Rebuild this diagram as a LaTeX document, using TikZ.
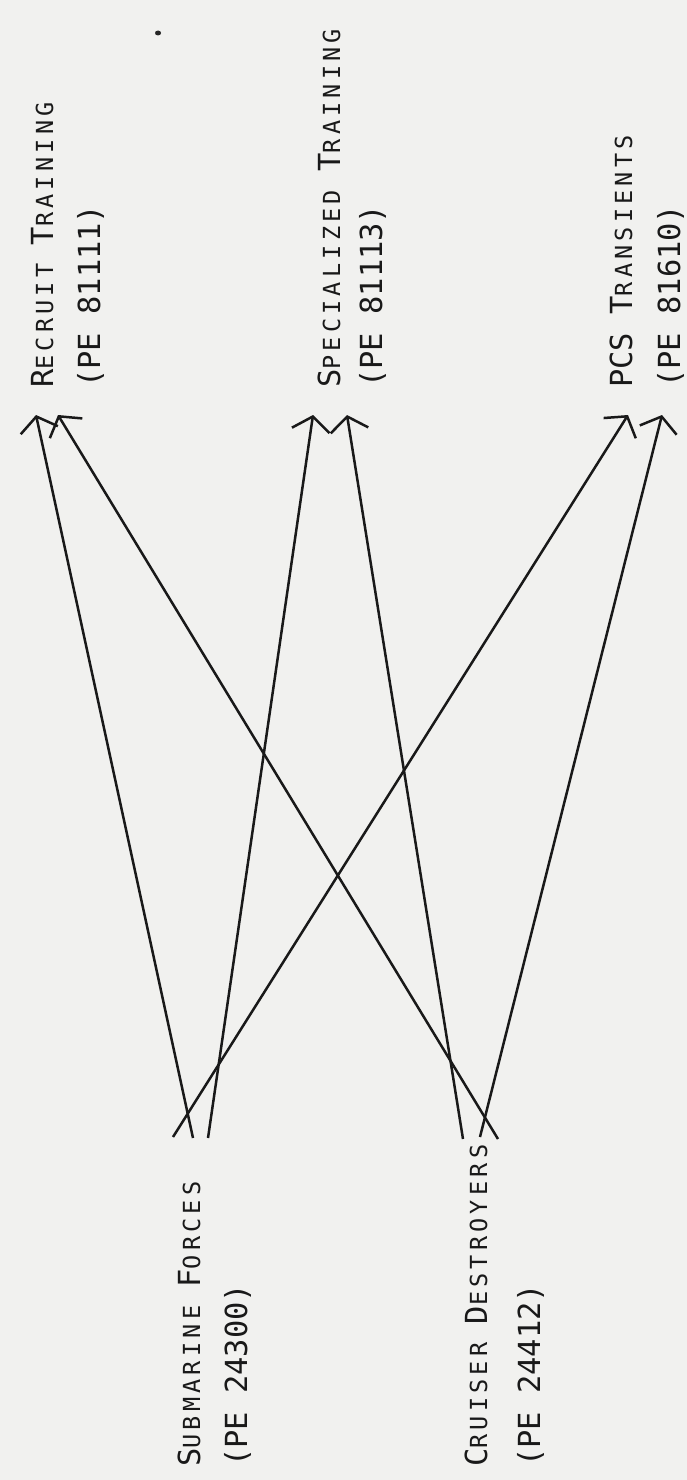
\documentclass[tikz,border=0pt]{standalone}
\usepackage{fontspec}
\usetikzlibrary{arrows.meta}
\newfontfamily\lblbig{DejaVu Sans Mono}
\newfontfamily\lblsmall[LetterSpace=18]{DejaVu Sans Mono}
\definecolor{paper}{RGB}{241,241,239}
\newcommand{\capword}[2]{{\fontsize{30.4}{36}\lblbig #1}{\fontsize{23.5}{30}\lblsmall #2}}
\newcommand{\wordgap}{\hspace*{18.3pt}}
\newcommand{\pecode}[1]{{\fontsize{30.4}{36}\lblbig (PE #1)}}

\begin{document}
\begin{tikzpicture}[
  x=1pt, y=-1pt,
  >={Straight Barb[length=14pt,width=38pt]},
  label/.style={rotate=90, anchor=base west, inner sep=0pt, text=black!90},
  link/.style={->, line width=2.5pt, draw=black!90}
]
  \useasboundingbox[fill=paper] (0,0) rectangle (687,1480);

  % targets (top)
  \node[label] (rec) at (53,388) {\capword{R}{ECRUIT}\wordgap\capword{T}{RAINING}};
  \node[label] (recpe) at (100,388) {\pecode{81111}};
  \node[label] (spe) at (340,388) {\capword{S}{PECIALIZED}\wordgap\capword{T}{RAINING}};
  \node[label] (spepe) at (382,388) {\pecode{81113}};
  \node[label] (pcs) at (632,388) {\capword{PCS}{}\wordgap\capword{T}{RANSIENTS}};
  \node[label] (pcspe) at (680,388) {\pecode{81610}};

  % sources (bottom)
  \node[label] (sub) at (200,1467) {\capword{S}{UBMARINE}\wordgap\capword{F}{ORCES}};
  \node[label] (subpe) at (247,1467) {\pecode{24300}};
  \node[label] (cru) at (487,1467) {\capword{C}{RUISER}\wordgap\capword{D}{ESTROYERS}};
  \node[label] (crupe) at (540,1467) {\pecode{24412}};

  % line ends
  \coordinate (sub-a) at (173,1137);
  \coordinate (sub-b) at (193,1138);
  \coordinate (sub-c) at (208,1138);
  \coordinate (cru-a) at (463,1139);
  \coordinate (cru-b) at (480,1137);
  \coordinate (cru-c) at (498,1139);
  \coordinate (rec-a) at (36,415);
  \coordinate (rec-b) at (58,415);
  \coordinate (spe-a) at (313,415);
  \coordinate (spe-b) at (347,415);
  \coordinate (pcs-a) at (628,415);
  \coordinate (pcs-b) at (662,415);

  \draw[link] (sub-b) -- (rec-a);
  \draw[link] (cru-c) -- (rec-b);
  \draw[link] (sub-c) -- (spe-a);
  \draw[link] (cru-a) -- (spe-b);
  \draw[link] (sub-a) -- (pcs-a);
  \draw[link] (cru-b) -- (pcs-b);

  % speck on the scan
  \fill[black!85] (158,33) ellipse (3 and 2.5);
\end{tikzpicture}
\end{document}
